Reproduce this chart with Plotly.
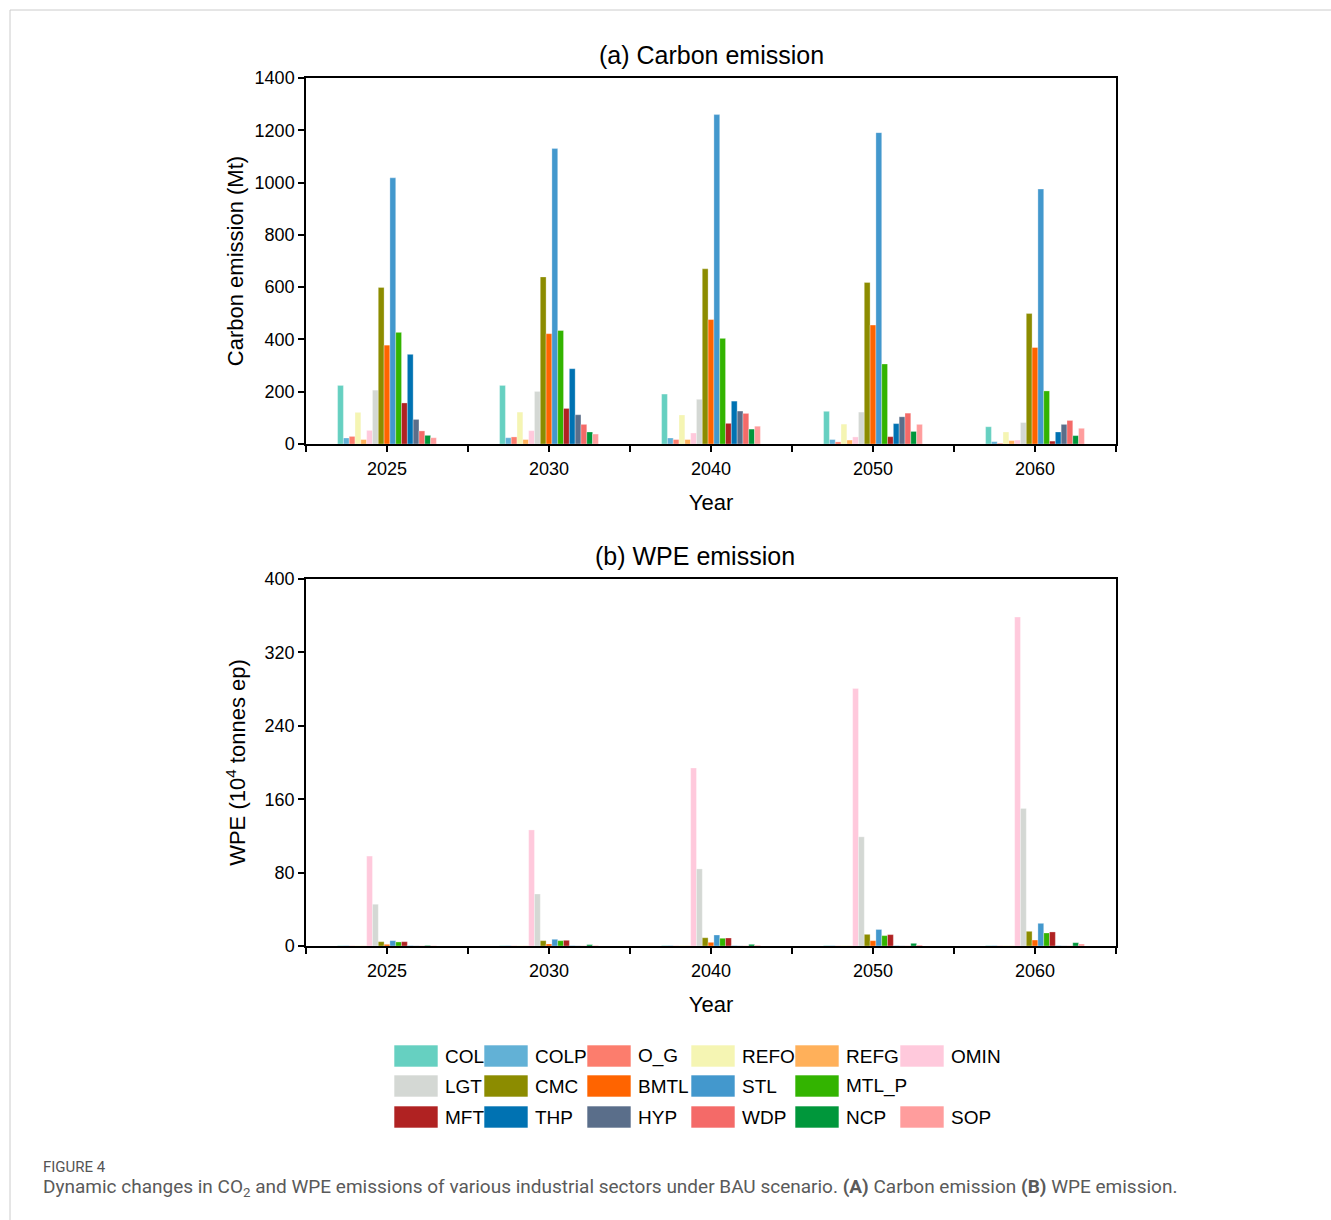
import plotly.graph_objects as go

years = ["2025", "2030", "2040", "2050", "2060"]
sectors = ["COL", "COLP", "O_G", "REFO", "REFG", "OMIN", "LGT", "CMC", "BMTL",
           "STL", "MTL_P", "MFT", "THP", "HYP", "WDP", "NCP", "SOP"]
colors = ["#66D0C1", "#62B1D6", "#FC7D6D", "#F5F5B3", "#FFB05A", "#FFC9DC",
          "#D4D8D4", "#8C8C00", "#FF6400", "#4398CD", "#33B400", "#B02222",
          "#0072B2", "#5A6E8A", "#F46A68", "#00973B", "#FF9D9D"]

# Carbon emission (Mt), per sector, values for 2025, 2030, 2040, 2050, 2060
carbon = {
    "COL":   [224, 224, 191, 125, 66],
    "COLP":  [23, 24, 23, 17, 9],
    "O_G":   [29, 27, 17, 8, 3],
    "REFO":  [121, 122, 111, 76, 46],
    "REFG":  [17, 17, 17, 15, 13],
    "OMIN":  [52, 51, 42, 27, 15],
    "LGT":   [206, 201, 171, 122, 82],
    "CMC":   [599, 639, 670, 618, 499],
    "BMTL":  [378, 422, 476, 455, 369],
    "STL":   [1018, 1130, 1260, 1191, 975],
    "MTL_P": [427, 434, 404, 306, 203],
    "MFT":   [157, 136, 79, 28, 11],
    "THP":   [343, 288, 164, 78, 46],
    "HYP":   [94, 112, 126, 104, 75],
    "WDP":   [50, 75, 117, 118, 90],
    "NCP":   [33, 46, 57, 48, 32],
    "SOP":   [24, 38, 68, 75, 60],
}

# WPE emission (10^4 tonnes ep)
wpe = {
    "COL":   [0.4, 0.4, 0.5, 0.5, 0.5],
    "COLP":  [0.4, 0.4, 0.5, 0.5, 0.5],
    "O_G":   [0.2, 0.2, 0.2, 0.2, 0.2],
    "REFO":  [0.4, 0.4, 0.5, 0.5, 0.5],
    "REFG":  [0.2, 0.2, 0.2, 0.2, 0.2],
    "OMIN":  [98, 126.5, 194, 280.7, 358.5],
    "LGT":   [45.5, 56.7, 84, 119, 150],
    "CMC":   [4.7, 5.8, 9, 12.7, 16],
    "BMTL":  [1.8, 2.2, 4, 5.8, 6.5],
    "STL":   [5.8, 7.3, 12, 18, 24.7],
    "MTL_P": [4.4, 5.8, 8.4, 11.3, 14.2],
    "MFT":   [4.7, 6.2, 8.7, 12.4, 15.3],
    "THP":   [0.3, 0.3, 0.3, 0.3, 0.3],
    "HYP":   [0.2, 0.2, 0.2, 0.2, 0.2],
    "WDP":   [0.2, 0.2, 0.2, 0.2, 0.2],
    "NCP":   [0.6, 1.5, 1.8, 2.9, 3.6],
    "SOP":   [0.3, 0.5, 0.8, 1.1, 2.2],
}

carbon_ticks = [0, 200, 400, 600, 800, 1000, 1200, 1400]
wpe_ticks = [0, 80, 160, 240, 320, 400]

W, H = 1331, 1220
FONT = "Liberation Sans, Arial, sans-serif"

def px(x):
    return x / W

def py(y):
    return 1 - y / H

xpos = list(range(len(years)))

fig = go.Figure()
for s, c in zip(sectors, colors):
    fig.add_trace(go.Bar(x=xpos, y=carbon[s], name=s, marker_color=c,
                         marker_line=dict(color="rgba(255,255,255,0.5)", width=0.6),
                         xaxis="x", yaxis="y", showlegend=False))
    fig.add_trace(go.Bar(x=xpos, y=wpe[s], name=s, marker_color=c,
                         marker_line=dict(color="rgba(255,255,255,0.5)", width=0.6),
                         xaxis="x2", yaxis="y2", showlegend=False))

xdom = [px(306), px(1116)]
common_x = dict(
    domain=xdom, range=[-0.5, len(years) - 0.5], automargin=False,
    tickmode="array", tickvals=xpos, ticktext=years,
    ticks="outside", ticklen=6, tickwidth=1.5, tickcolor="black",
    ticklabelstandoff=2,
    minor=dict(ticks="outside", ticklen=6, tickwidth=1.5, tickcolor="black",
               tick0=0.5, dtick=1),
    showline=True, linecolor="black", linewidth=1.5, mirror=True,
    showgrid=False, zeroline=False,
    tickfont=dict(family=FONT, size=18, color="black"),
    title=dict(text="Year", font=dict(family=FONT, size=22, color="black"), standoff=16),
)
common_y = dict(
    ticks="outside", ticklen=6, tickwidth=1.5, tickcolor="black", automargin=False,
    showline=True, linecolor="black", linewidth=1.5, mirror=True,
    showgrid=False, zeroline=False,
    tickfont=dict(family=FONT, size=18, color="black"),
)

fig.update_layout(
    width=W, height=H,
    margin=dict(l=0, r=0, t=0, b=0, pad=0, autoexpand=False),
    paper_bgcolor="white", plot_bgcolor="white",
    barmode="group", bargap=0.39, bargroupgap=0,
    showlegend=False,
    xaxis=dict(anchor="y", **common_x),
    xaxis2=dict(anchor="y2", **common_x),
    yaxis=dict(anchor="x", domain=[py(444), py(78)], range=[0, 1400],
               tickvals=carbon_ticks,
               title=dict(text="Carbon emission (Mt)",
                          font=dict(family=FONT, size=22, color="black"), standoff=5),
               **common_y),
    yaxis2=dict(anchor="x2", domain=[py(946), py(579)], range=[0, 400],
                tickvals=wpe_ticks,
                title=dict(text="WPE (10<sup>4</sup> tonnes ep)",
                           font=dict(family=FONT, size=22, color="black"), standoff=13),
                **common_y),
)

annotations = [
    dict(text="(a) Carbon emission", x=px(711), y=py(55), xref="paper", yref="paper",
         showarrow=False, font=dict(family=FONT, size=25, color="black"),
         xanchor="center", yanchor="middle"),
    dict(text="(b) WPE emission", x=px(695), y=py(556), xref="paper", yref="paper",
         showarrow=False, font=dict(family=FONT, size=25, color="black"),
         xanchor="center", yanchor="middle"),
    dict(text="FIGURE 4", x=px(41), y=py(1167), xref="paper", yref="paper",
         showarrow=False, font=dict(family="Roboto, sans-serif", size=15, color="#555555"),
         xanchor="left", yanchor="middle"),
    dict(text="Dynamic changes in CO<sub>2</sub> and WPE emissions of various industrial sectors "
              "under BAU scenario. <b>(A)</b> Carbon emission <b>(B)</b> WPE emission.",
         x=px(41), y=py(1187), xref="paper", yref="paper",
         showarrow=False, font=dict(family="Roboto, sans-serif", size=19, color="#5a5a5a"),
         xanchor="left", yanchor="middle"),
]

shapes = [
    dict(type="line", xref="paper", yref="paper", x0=px(10), x1=1, y0=py(10), y1=py(10),
         line=dict(color="#cccccc", width=1)),
    dict(type="line", xref="paper", yref="paper", x0=px(10), x1=px(10), y0=py(10), y1=0,
         line=dict(color="#cccccc", width=1)),
]

# custom legend grid (row-major, second row has an empty last slot)
legend_rows = [sectors[0:6], sectors[6:11], sectors[11:17]]
col_left = [394, 484, 587, 691, 795, 900]
row_center = [1056, 1086, 1117]
for r, row in enumerate(legend_rows):
    for ci, s in enumerate(row):
        c = colors[sectors.index(s)]
        x0 = col_left[ci]
        yc = row_center[r]
        shapes.append(dict(type="rect", xref="paper", yref="paper",
                           x0=px(x0), x1=px(x0 + 44), y0=py(yc + 11), y1=py(yc - 11),
                           fillcolor=c, line=dict(color="rgba(255,255,255,0.6)", width=1)))
        annotations.append(dict(text=s, x=px(x0 + 49), y=py(yc), xref="paper", yref="paper",
                                showarrow=False, xanchor="left", yanchor="middle",
                                font=dict(family=FONT, size=19, color="black")))

fig.update_layout(annotations=annotations, shapes=shapes)

fig.write_html("out.html", config={"displayModeBar": False},
               post_script="document.body.style.margin='0';")
